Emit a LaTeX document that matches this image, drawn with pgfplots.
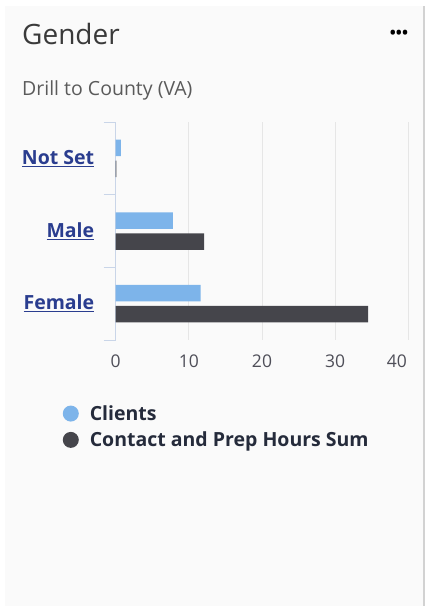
\documentclass[border=0pt]{standalone}
\usepackage{pgfplots}
\pgfplotsset{compat=1.18}
\usepackage{fontspec}
\setmainfont{Open Sans}
\definecolor{panelc}{HTML}{FAFAFA}
\definecolor{borderc}{HTML}{D2D2D2}
\definecolor{clientc}{HTML}{7DB4EA}
\definecolor{contactc}{HTML}{45454B}
\definecolor{axisc}{HTML}{C9D5E8}
\definecolor{gridc}{HTML}{E6E6E6}
\definecolor{catc}{HTML}{2A3D8F}
\definecolor{tickc}{HTML}{4E4E58}
\definecolor{legc}{HTML}{252B3B}
\definecolor{titlec}{HTML}{3A3A3A}
\definecolor{subc}{HTML}{5A5A5A}
\begin{document}
\begin{tikzpicture}[x=1pt,y=1pt]
\useasboundingbox (0,0) rectangle (433,606);
\fill[white] (0,0) rectangle (433,606);
\fill[panelc] (5,0) rectangle (424,600);
\draw[borderc, line width=1.5pt] (424,0) -- (424,600);
\node[anchor=base west, inner sep=0, text=titlec, font=\fontsize{28}{33}\selectfont] at (22,561) {Gender};
\node[anchor=base west, inner sep=0, text=subc, font=\fontsize{19.5}{23}\selectfont] at (22,510) {Drill to County (VA)};
\node[anchor=center, inner sep=0, text=black, font=\bfseries\fontsize{16}{19}\selectfont] at (399,572) {•••};
\begin{axis}[
  at={(115.7pt,266pt)}, anchor=south west,
  scale only axis, width=292.6pt, height=218pt,
  xbar, bar width=16.5pt,
  xmin=0, xmax=40, ymin=-0.5, ymax=2.5,
  xtick={0,10,20,30},
  extra x ticks={40},
  extra x tick style={xticklabel style={anchor=north east, xshift=2pt}},
  ytick={0,1,2},
  yticklabels={\underline{Female},\underline{Male},\underline{Not Set}},
  major tick length=0pt,
  extra y ticks={-0.5,0.5,1.5,2.5},
  extra y tick labels={},
  extra y tick style={major tick length=12pt, tick align=outside, tick style={draw=axisc, line width=0.9pt}},
  axis lines*=left,
  axis line style={-},
  x axis line style={draw=none},
  y axis line style={draw=axisc, line width=1pt},
  xmajorgrids, grid style={gridc, line width=0.9pt},
  /pgf/number format/assume math mode=true,
  xticklabel style={text=tickc, font=\fontsize{17.5}{21}\selectfont, yshift=-11pt},
  yticklabel style={text=catc, font=\bfseries\fontsize{19.5}{23}\selectfont, xshift=-18pt},
  legend cell align=left,
  legend image code/.code={\fill[#1, draw=none] (0pt,0pt) circle (8pt);},
  legend style={at={(-0.1815,-0.29)}, anchor=north west, draw=none, fill=none,
    font=\bfseries\fontsize{19.5}{23}\selectfont, text=legc, inner sep=0pt,
    row sep=6pt,
    /tikz/every odd column/.append style={column sep=9pt}},
]
\addplot[fill=clientc, draw=none, bar shift=10.5pt] coordinates {(11.6,0) (7.8,1) (0.7,2)};
\addplot[fill=contactc, draw=none, bar shift=-10.5pt] coordinates {(34.5,0) (12.1,1) (0.1,2)};
\legend{Clients, Contact and Prep Hours Sum}
\end{axis}
\end{tikzpicture}
\end{document}
